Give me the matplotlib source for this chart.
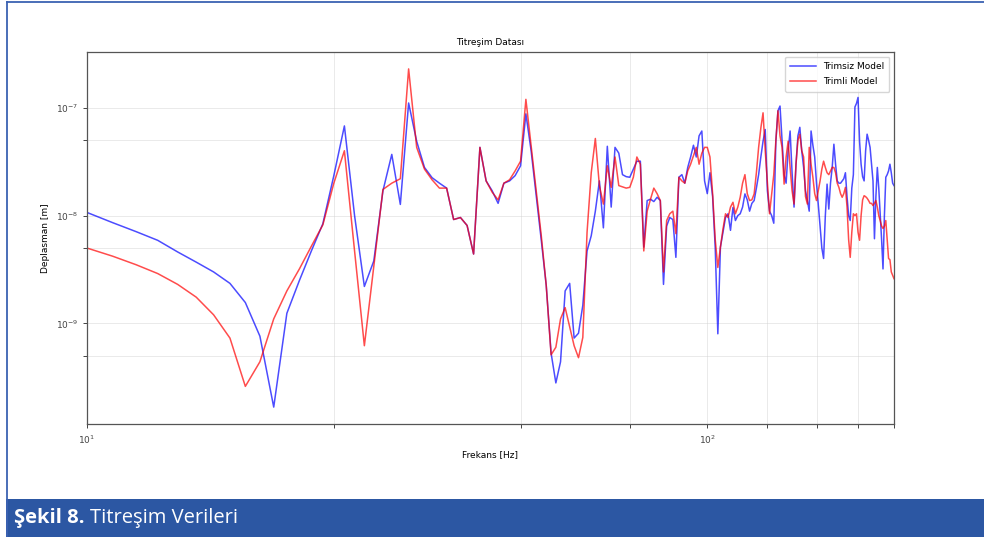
import matplotlib
matplotlib.use("Agg")
import matplotlib.pyplot as plt
from matplotlib.patches import Rectangle
from matplotlib.lines import Line2D
from matplotlib.ticker import FixedLocator, NullFormatter
import numpy as np

# frequency grid [Hz], 1 Hz steps
freq = np.arange(10, 201)

# Trimsiz Model displacement [m]
trimsiz = [
    1.07e-8, 8.6e-9, 7.1e-9, 5.9e-9, 4.6e-9, 3.7e-9, 3.0e-9, 2.35e-9, 1.56e-9, 7.6e-10,
    1.67e-10, 1.24e-9, 2.5e-9, 4.7e-9, 8.4e-9, 2.35e-8, 6.8e-8, 1.0e-8, 2.2e-9, 3.8e-9,
    1.7e-8, 3.7e-8, 1.27e-8, 1.11e-7, 4.9e-8, 2.8e-8, 2.25e-8, 2.0e-8, 1.8e-8, 9.2e-9,
    9.6e-9, 8.1e-9, 4.4e-9, 4.3e-8, 2.1e-8, 1.7e-8, 1.3e-8, 2.0e-8, 2.1e-8, 2.35e-8,
    2.9e-8, 8.8e-8, 4.0e-8, 1.53e-8, 5.9e-9, 2.25e-9, 5.3e-10, 2.8e-10, 4.4e-10, 2.0e-9,
    2.35e-9, 7.3e-10, 8.1e-10, 1.47e-9, 4.7e-9, 6.5e-9, 1.1e-8, 2.1e-8, 7.7e-9, 4.4e-8,
    1.2e-8, 4.3e-8, 3.8e-8, 2.4e-8, 2.3e-8, 2.27e-8, 2.7e-8, 3.2e-8, 3.2e-8, 5.1e-9,
    1.38e-8, 1.42e-8, 1.35e-8, 1.48e-8, 1.38e-8, 2.3e-9, 8.0e-9, 9.6e-9, 9.2e-9, 4.1e-9,
    2.27e-8, 2.4e-8, 2.0e-8, 2.8e-8, 3.5e-8, 4.5e-8, 3.5e-8, 5.5e-8, 6.1e-8, 2.1e-8,
    1.6e-8, 2.5e-8, 1.5e-8, 5.0e-9, 8.0e-10, 5.1e-9, 7.0e-9, 9.6e-9, 1.04e-8, 7.3e-9,
    1.19e-8, 9.0e-9, 1.0e-8, 1.04e-8, 1.2e-8, 1.59e-8, 1.4e-8, 1.1e-8, 1.3e-8, 1.38e-8,
    1.8e-8, 2.4e-8, 3.5e-8, 4.9e-8, 6.3e-8, 1.7e-8, 1.1e-8, 1.0e-8, 8.5e-9, 4.9e-8,
    9.4e-8, 1.04e-7, 5.0e-8, 2.4e-8, 2.0e-8, 4.0e-8, 6.1e-8, 2.5e-8, 1.2e-8, 3.0e-8,
    5.5e-8, 6.6e-8, 4.0e-8, 2.8e-8, 1.7e-8, 1.38e-8, 1.1e-8, 6.1e-8, 4.5e-8, 3.5e-8,
    2.0e-8, 1.28e-8, 8.0e-9, 5.0e-9, 4.0e-9, 1.0e-8, 1.96e-8, 1.15e-8, 2.0e-8, 2.8e-8,
    4.6e-8, 3.0e-8, 2.1e-8, 2.0e-8, 2.0e-8, 2.1e-8, 2.2e-8, 2.5e-8, 1.5e-8, 1.0e-8,
    9.0e-9, 1.8e-8, 2.4e-8, 1.02e-7, 1.1e-7, 1.25e-7, 4.9e-8, 3.0e-8, 2.3e-8, 2.1e-8,
    4.0e-8, 5.7e-8, 5.0e-8, 4.3e-8, 3.0e-8, 2.1e-8, 6.1e-9, 1.5e-8, 2.8e-8, 1.8e-8,
    1.04e-8, 6.0e-9, 3.2e-9, 1.0e-8, 2.27e-8, 2.4e-8, 2.6e-8, 3.0e-8, 2.5e-8, 2.0e-8,
    1.9e-8,
]

# Trimli Model displacement [m]
trimli = [
    5.0e-9, 4.2e-9, 3.5e-9, 2.9e-9, 2.3e-9, 1.75e-9, 1.2e-9, 7.3e-10, 2.6e-10, 4.4e-10,
    1.1e-9, 2.0e-9, 3.2e-9, 5.2e-9, 8.2e-9, 2.0e-8, 4.0e-8, 4.7e-9, 6.2e-10, 3.4e-9,
    1.75e-8, 2.0e-8, 2.2e-8, 2.3e-7, 4.3e-8, 2.7e-8, 2.15e-8, 1.8e-8, 1.8e-8, 9.2e-9,
    9.6e-9, 8.1e-9, 4.4e-9, 4.3e-8, 2.1e-8, 1.65e-8, 1.4e-8, 2.0e-8, 2.15e-8, 2.6e-8,
    3.2e-8, 1.2e-7, 4.45e-8, 1.7e-8, 6.5e-9, 2.25e-9, 5.1e-10, 6.0e-10, 1.1e-9, 1.4e-9,
    9.3e-10, 6.2e-10, 4.8e-10, 7.4e-10, 7.0e-9, 2.5e-8, 5.2e-8, 1.9e-8, 1.28e-8, 2.9e-8,
    1.83e-8, 3.5e-8, 1.9e-8, 1.85e-8, 1.8e-8, 1.83e-8, 2.27e-8, 3.5e-8, 3.0e-8, 4.7e-9,
    1.1e-8, 1.42e-8, 1.8e-8, 1.6e-8, 1.38e-8, 3.0e-9, 9.0e-9, 1.04e-8, 1.1e-8, 6.8e-9,
    2.27e-8, 2.1e-8, 2.0e-8, 2.6e-8, 3.0e-8, 3.6e-8, 4.3e-8, 3.0e-8, 3.8e-8, 4.3e-8,
    4.3e-8, 3.5e-8, 1.6e-8, 6.0e-9, 3.3e-9, 5.1e-9, 7.5e-9, 1.04e-8, 9.6e-9, 1.2e-8,
    1.33e-8, 1.04e-8, 1.2e-8, 1.48e-8, 2.0e-8, 2.4e-8, 1.6e-8, 1.38e-8, 1.4e-8, 1.59e-8,
    2.5e-8, 4.3e-8, 6.5e-8, 9.0e-8, 4.0e-8, 2.0e-8, 1.04e-8, 1.6e-8, 2.4e-8, 5.0e-8,
    9.4e-8, 5.5e-8, 4.3e-8, 1.96e-8, 3.5e-8, 4.9e-8, 2.8e-8, 1.7e-8, 1.28e-8, 3.0e-8,
    5.0e-8, 5.7e-8, 4.0e-8, 3.5e-8, 1.5e-8, 1.28e-8, 4.3e-8, 3.0e-8, 2.27e-8, 1.6e-8,
    1.38e-8, 1.7e-8, 2.1e-8, 2.7e-8, 3.2e-8, 2.8e-8, 2.5e-8, 2.4e-8, 2.6e-8, 2.8e-8,
    2.8e-8, 2.5e-8, 2.0e-8, 1.83e-8, 1.6e-8, 1.48e-8, 1.6e-8, 1.83e-8, 1.2e-8, 6.0e-9,
    4.1e-9, 7.0e-9, 1.04e-8, 1.0e-8, 1.04e-8, 7.0e-9, 5.9e-9, 1.0e-8, 1.4e-8, 1.53e-8,
    1.5e-8, 1.45e-8, 1.38e-8, 1.3e-8, 1.3e-8, 1.24e-8, 1.3e-8, 1.38e-8, 1.2e-8, 1.0e-8,
    9.0e-9, 8.0e-9, 7.6e-9, 8.0e-9, 9.0e-9, 6.0e-9, 4.0e-9, 3.9e-9, 3.0e-9, 2.8e-9,
    2.6e-9,
]

x_minor = [25, 50, 75, 125, 150, 175, 200]
y_minor = [5e-10, 5e-9, 5e-8]

W, H = 984, 537
fig = plt.figure(figsize=(W / 100, H / 100), dpi=100)

# page frame and caption bar
frame_col = "#3b62b2"
fig.add_artist(Line2D([6.5 / W, 6.5 / W], [0, 1 - 1.5 / H], color=frame_col, lw=1.3,
                      transform=fig.transFigure))
fig.add_artist(Line2D([6.5 / W, 1], [1 - 1.5 / H, 1 - 1.5 / H], color=frame_col, lw=1.3,
                      transform=fig.transFigure))
fig.add_artist(Rectangle((6 / W, 0), 1 - 6 / W, 38 / H, transform=fig.transFigure,
                         facecolor="#2c57a3", edgecolor="none"))

ax = fig.add_axes([87 / W, 113 / H, 807 / W, 372 / H])
ax.plot(freq, trimsiz, color="blue", alpha=0.7, lw=1.1, label="Trimsiz Model")
ax.plot(freq, trimli, color="red", alpha=0.7, lw=1.1, label="Trimli Model")
ax.set_xscale("log")
ax.set_yscale("log")
ax.set_xlim(10, 200)
ax.xaxis.set_minor_locator(FixedLocator(x_minor))
ax.xaxis.set_minor_formatter(NullFormatter())
ax.yaxis.set_minor_locator(FixedLocator(y_minor))
ax.yaxis.set_minor_formatter(NullFormatter())
ax.grid(True, which="both", color="#cfcfcf", lw=0.6, alpha=0.5)

ax.set_title("Titreşim Datası", fontsize=6.5, pad=5)
ax.set_xlabel("Frekans [Hz]", fontsize=6.5, labelpad=3)
ax.set_ylabel("Deplasman [m]", fontsize=6.5, labelpad=4)
ax.tick_params(which="both", labelsize=6.5, colors="#444444", length=3, width=0.7)
ax.tick_params(axis="x", pad=4)
for sp in ax.spines.values():
    sp.set_color("#555555")
    sp.set_linewidth(0.9)

ax.legend(loc="upper right", fontsize=6.5, handlelength=2.8, borderpad=0.6,
          labelspacing=0.7, framealpha=0.8)

# caption: bold figure number, regular title
fig.canvas.draw()
t1 = fig.text(14 / W, 19 / H, "Şekil 8.", color="white", fontsize=14.5,
              fontweight="bold", family="Open Sans", va="center")
fig.canvas.draw()
bb = t1.get_window_extent()
fig.text(bb.x1 / W + 5 / W, 19 / H, "Titreşim Verileri", color="white", fontsize=14.5,
         family="Open Sans", va="center")

fig.savefig("out.png", dpi=100)
